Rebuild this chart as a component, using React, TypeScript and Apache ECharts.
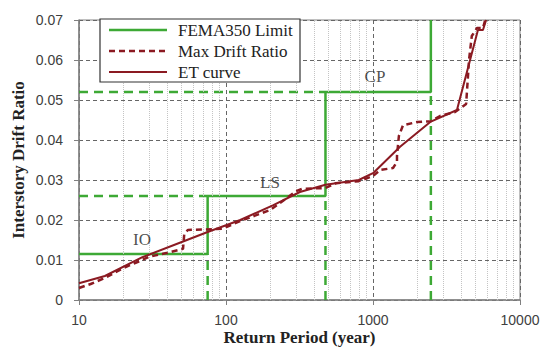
import React, { useEffect, useRef } from "react";
import * as echarts from "echarts";

// ET curve
const etYears = [10, 15, 27, 50, 75, 100, 125, 210, 318, 475, 800, 1000, 1528, 2475, 3725, 5175, 5600, 5880];
const etDrift = [0.0042, 0.006, 0.0107, 0.0145, 0.017, 0.0187, 0.02, 0.0237, 0.027, 0.0288, 0.030, 0.0317, 0.0383, 0.0446, 0.0475, 0.0675, 0.0675, 0.07];

// Max drift ratio (dashed)
const maxYears = [10, 12, 15, 20, 25, 30, 40, 51, 52, 55, 95, 120, 200, 300, 330, 475, 560, 800, 1000, 1117, 1368, 1456, 1456, 1500, 1600, 2000, 2475, 2857, 3614, 4300, 4400, 4500, 4700, 5100, 5600, 5800];
const maxDrift = [0.003, 0.004, 0.0055, 0.008, 0.0095, 0.0108, 0.0118, 0.0128, 0.0165, 0.0175, 0.0178, 0.0195, 0.0225, 0.0272, 0.0278, 0.028, 0.0292, 0.0297, 0.031, 0.0325, 0.033, 0.0345, 0.036, 0.041, 0.0437, 0.0445, 0.0447, 0.046, 0.047, 0.049, 0.0545, 0.06, 0.066, 0.068, 0.068, 0.07];

// FEMA350 limits
const limitNames = ["IO", "LS", "CP"];
const limitYears = [75, 475, 2475];
const limitDrift = [0.0115, 0.026, 0.052];

// annotation positions (data coordinates)
const labelYears = [26.8, 199, 1032];
const labelDrift = [0.0152, 0.0295, 0.056];

const legendNames = ["FEMA350 Limit", "Max Drift Ratio", "ET curve"];
const minorYears = [20, 30, 40, 50, 60, 70, 80, 90, 200, 300, 400, 500, 600, 700, 800, 900, 2000, 3000, 4000, 5000, 6000, 7000, 8000, 9000];

const X_MIN = 10;
const X_MAX = 10000;
const Y_MAX = 0.07;

const GREEN = "#3DA935";
const RED = "#8B1A22";

export default function App() {
  const ref = useRef<HTMLDivElement>(null);
  useEffect(() => {
    if (!ref.current) return;
    const chart = echarts.init(ref.current, undefined, { renderer: "svg" });

    const femaData: number[][] = [[X_MIN, limitDrift[0]]];
    for (let i = 0; i < limitYears.length; i++) {
      femaData.push([limitYears[i], limitDrift[i]]);
      femaData.push([limitYears[i], i + 1 < limitDrift.length ? limitDrift[i + 1] : Y_MAX]);
    }

    const guideSeries: any[] = [];
    for (let i = 0; i < limitYears.length; i++) {
      guideSeries.push({
        type: "line",
        name: "guideV" + i,
        data: [[limitYears[i], 0], [limitYears[i], limitDrift[i]]],
        symbol: "none",
        lineStyle: { color: GREEN, width: 2.5, type: [9, 6] },
        z: 3,
        silent: true,
      });
      if (i > 0) {
        guideSeries.push({
          type: "line",
          name: "guideH" + i,
          data: [[X_MIN, limitDrift[i]], [limitYears[i - 1], limitDrift[i]]],
          symbol: "none",
          lineStyle: { color: GREEN, width: 2.5, type: [9, 6] },
          z: 3,
          silent: true,
        });
      }
    }

    const legendStyles = [
      { stroke: GREEN, lineWidth: 2.5 },
      { stroke: RED, lineWidth: 2.5, lineDash: [6, 4] },
      { stroke: RED, lineWidth: 2 },
    ];
    const legendRowY = [30, 51, 72];
    const legendElems: any[] = [
      {
        type: "rect",
        shape: { x: 100, y: 19, width: 200, height: 63 },
        style: { fill: "#fff", stroke: "#333", lineWidth: 1.2 },
        z: 100,
      },
    ];
    legendNames.forEach((n, i) => {
      legendElems.push({
        type: "line",
        shape: { x1: 109, y1: legendRowY[i], x2: 167, y2: legendRowY[i] },
        style: legendStyles[i],
        z: 101,
      });
      legendElems.push({
        type: "text",
        x: 178,
        y: legendRowY[i],
        style: {
          text: n,
          fontFamily: "Liberation Serif",
          fontSize: 17,
          fill: "#222",
          verticalAlign: "middle",
          align: "left",
        },
        z: 101,
      });
    });

    chart.setOption({
      animation: false,
      backgroundColor: "#fff",
      grid: {
        left: 79,
        right: 24,
        top: 20,
        bottom: 47,
        show: true,
        borderColor: "#808080",
        borderWidth: 1,
        outerBoundsMode: "none",
        containLabel: false,
      },
      graphic: legendElems,
      xAxis: {
        type: "log",
        logBase: 10,
        min: X_MIN,
        max: X_MAX,
        name: "Return Period (year)",
        nameLocation: "middle",
        nameGap: 29,
        nameMoveOverlap: false,
        nameTextStyle: { fontFamily: "Liberation Serif", fontWeight: "bold", fontSize: 17, lineHeight: 17, color: "#222" },
        axisLine: { lineStyle: { color: "#808080", width: 1.5 } },
        axisTick: { show: true, length: 5, lineStyle: { color: "#808080" } },
        axisLabel: {
          fontFamily: "Liberation Sans",
          fontSize: 14,
          color: "#404040",
          margin: 13,
          formatter: (v: number) => String(Math.round(v)),
        },
        splitLine: { show: true, lineStyle: { color: "#666", type: [4, 3], width: 1 } },
      },
      yAxis: {
        type: "value",
        min: 0,
        max: Y_MAX,
        interval: 0.01,
        name: "Interstory Drift Ratio",
        nameLocation: "middle",
        nameGap: 52,
        nameMoveOverlap: false,
        nameTextStyle: { fontFamily: "Liberation Serif", fontWeight: "bold", fontSize: 17, color: "#222" },
        axisLine: { show: true, lineStyle: { color: "#808080", width: 1.5 } },
        axisTick: { show: true, length: 5, lineStyle: { color: "#808080" } },
        axisLabel: {
          fontFamily: "Liberation Sans",
          fontSize: 14,
          color: "#404040",
          margin: 16,
          formatter: (v: number) => (v === 0 ? "0" : v.toFixed(2)),
        },
        splitLine: { show: true, lineStyle: { color: "#666", type: [4, 3], width: 1 } },
      },
      series: [
        {
          type: "line",
          name: "minor",
          data: [],
          z: 1,
          silent: true,
          markLine: {
            silent: true,
            symbol: ["none", "none"],
            label: { show: false },
            lineStyle: { color: "#c4c4c4", type: "dotted", width: 1 },
            data: minorYears.map((x) => ({ xAxis: x })),
          },
        },
        ...guideSeries,
        {
          type: "line",
          name: "FEMA350 Limit",
          data: femaData,
          symbol: "none",
          lineStyle: { color: GREEN, width: 2.5 },
          itemStyle: { color: GREEN },
          z: 4,
        },
        {
          type: "line",
          name: "Max Drift Ratio",
          data: maxYears.map((x, i) => [x, maxDrift[i]]),
          symbol: "none",
          lineStyle: { color: RED, width: 2.5, type: [6, 4] },
          itemStyle: { color: RED },
          z: 5,
        },
        {
          type: "line",
          name: "ET curve",
          data: etYears.map((x, i) => [x, etDrift[i]]),
          symbol: "none",
          lineStyle: { color: RED, width: 2 },
          itemStyle: { color: RED },
          z: 6,
        },
        {
          type: "scatter",
          name: "labels",
          data: limitNames.map((n, i) => ({ value: [labelYears[i], labelDrift[i]], name: n })),
          symbolSize: 1,
          itemStyle: { color: "rgba(0,0,0,0)" },
          silent: true,
          z: 7,
          label: {
            show: true,
            position: "inside",
            formatter: (p: any) => p.name,
            fontFamily: "Liberation Serif",
            fontSize: 17,
            color: "#222",
          },
        },
      ],
    });
    return () => chart.dispose();
  }, []);
  return <div ref={ref} style={{ position: "fixed", left: 0, top: 0, width: 544, height: 347 }} />;
}
